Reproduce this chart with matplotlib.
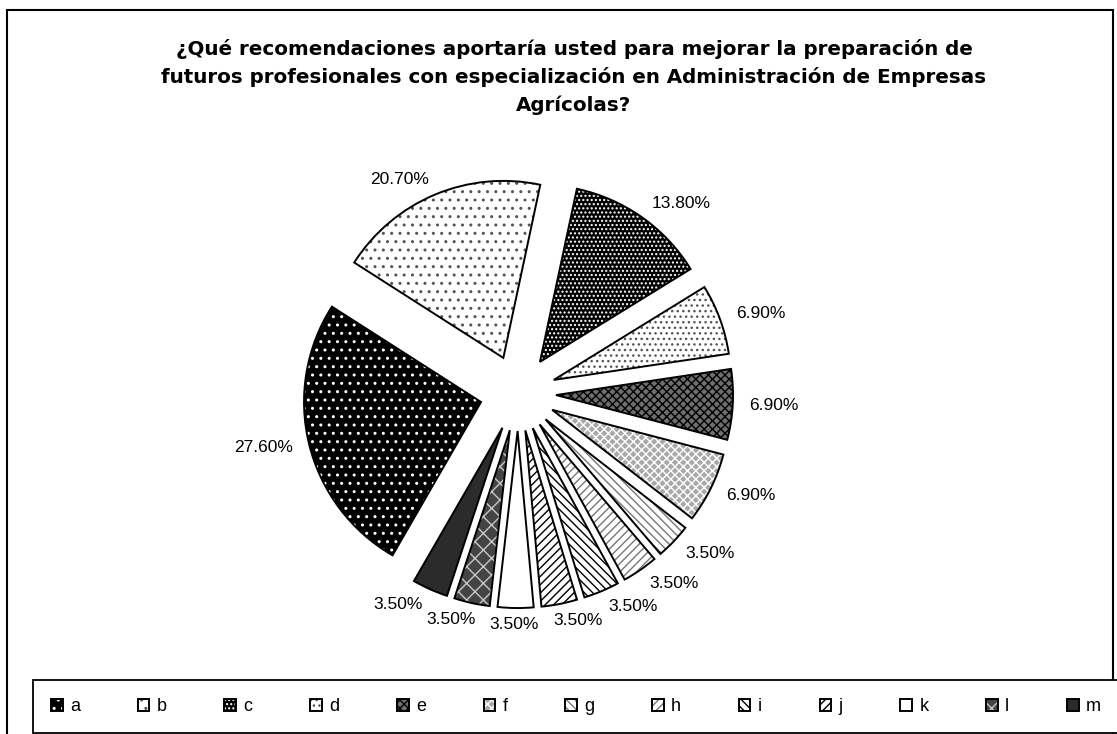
import numpy as np
import matplotlib
matplotlib.use('Agg')
import matplotlib.pyplot as plt
from matplotlib.patches import Rectangle

TITLE = ('¿Qué recomendaciones aportaría usted para mejorar la preparación de\n'
         'futuros profesionales con especialización en Administración de Empresas\n'
         'Agrícolas?')
CATEGORIES = ['a', 'b', 'c', 'd', 'e', 'f', 'g', 'h', 'i', 'j', 'k', 'l', 'm']
PERCENTS = [27.6, 20.7, 13.8, 6.9, 6.9, 6.9, 3.5, 3.5, 3.5, 3.5, 3.5, 3.5, 3.5]
PCT_LABELS = [f'{p:.2f}%' for p in PERCENTS]

# fill / hatch / hatch colour for each slice (black & white print look)
FACES = ['#000000', '#ffffff', '#000000', '#ffffff', '#6e6e6e', '#a9a9a9',
         '#ffffff', '#ffffff', '#ffffff', '#ffffff', '#ffffff', '#444444', '#2b2b2b']
HATCHES = ['..', '..', '....', '...', 'xxxx', 'xxxx',
           '\\\\\\\\', '////', '\\\\\\\\', '////', '', 'xx', '']
HATCH_COLORS = ['#ffffff', '#555555', '#ffffff', '#555555', '#000000', '#ffffff',
                '#777777', '#777777', '#000000', '#000000', '#ffffff', '#c8c8c8', '#2b2b2b']

W, H = 1117, 734
CX, CY, R = 518, 734 - 393, 177   # pie centre / radius in pixels
LIM = 1.6

plt.rcParams['hatch.linewidth'] = 1.0
fig = plt.figure(figsize=(W / 100, H / 100), dpi=100)

side = 2 * LIM * R
ax = fig.add_axes([(CX - side / 2) / W, (CY - side / 2) / H, side / W, side / H])

explode = [0.215] * len(PERCENTS)

# fills with coloured hatches (no edges)
fills, texts = ax.pie(PERCENTS, explode=explode, labels=PCT_LABELS, colors=FACES,
                      hatch=HATCHES, startangle=240, counterclock=False,
                      labeldistance=1.095,
                      wedgeprops=dict(linewidth=0),
                      textprops=dict(fontsize=12.5, family='Liberation Sans'))
for w, hc in zip(fills, HATCH_COLORS):
    w.set_edgecolor(hc)
    w.set_linewidth(0)

# black outlines on top
outlines, _ = ax.pie(PERCENTS, explode=explode, startangle=240, counterclock=False,
                     wedgeprops=dict(facecolor='none', edgecolor='black', linewidth=1.4))

ax.set_xlim(-LIM, LIM)
ax.set_ylim(-LIM, LIM)
ax.axis('off')

# excel-like label placement: slide the text sideways depending on the angle
fig.canvas.draw()
for t in texts:
    x, y = t.get_position()
    c = x / np.hypot(x, y)
    half_w = t.get_window_extent().width / 2 / R
    t.set_ha('center')
    t.set_position((x + half_w * np.clip(c / 0.3, -1, 1), y))

fig.text(574 / W, 1 - 77 / H, TITLE, ha='center', va='center', multialignment='center',
         fontsize=14.3, fontweight='bold', family='DejaVu Sans', linespacing=1.55)

handles = list(zip(fills, outlines))
leg = fig.legend(handles, CATEGORIES, loc='lower left', ncol=13, mode='expand',
                 bbox_to_anchor=(33 / W, 1 / H, (W + 2 - 33) / W, 50 / H),
                 borderaxespad=0, fancybox=False, edgecolor='black', framealpha=1,
                 handlelength=0.65, handleheight=0.65, handletextpad=0.4,
                 borderpad=1.0, prop=dict(family='Liberation Sans', size=13))
leg.get_frame().set_linewidth(1.3)

fig.patches.append(Rectangle((7 / W, -0.05), (1113 - 7) / W, 1.05 - 10 / H,
                             transform=fig.transFigure, fill=False,
                             edgecolor='black', linewidth=1.5))

fig.savefig('out.png', dpi=100)
